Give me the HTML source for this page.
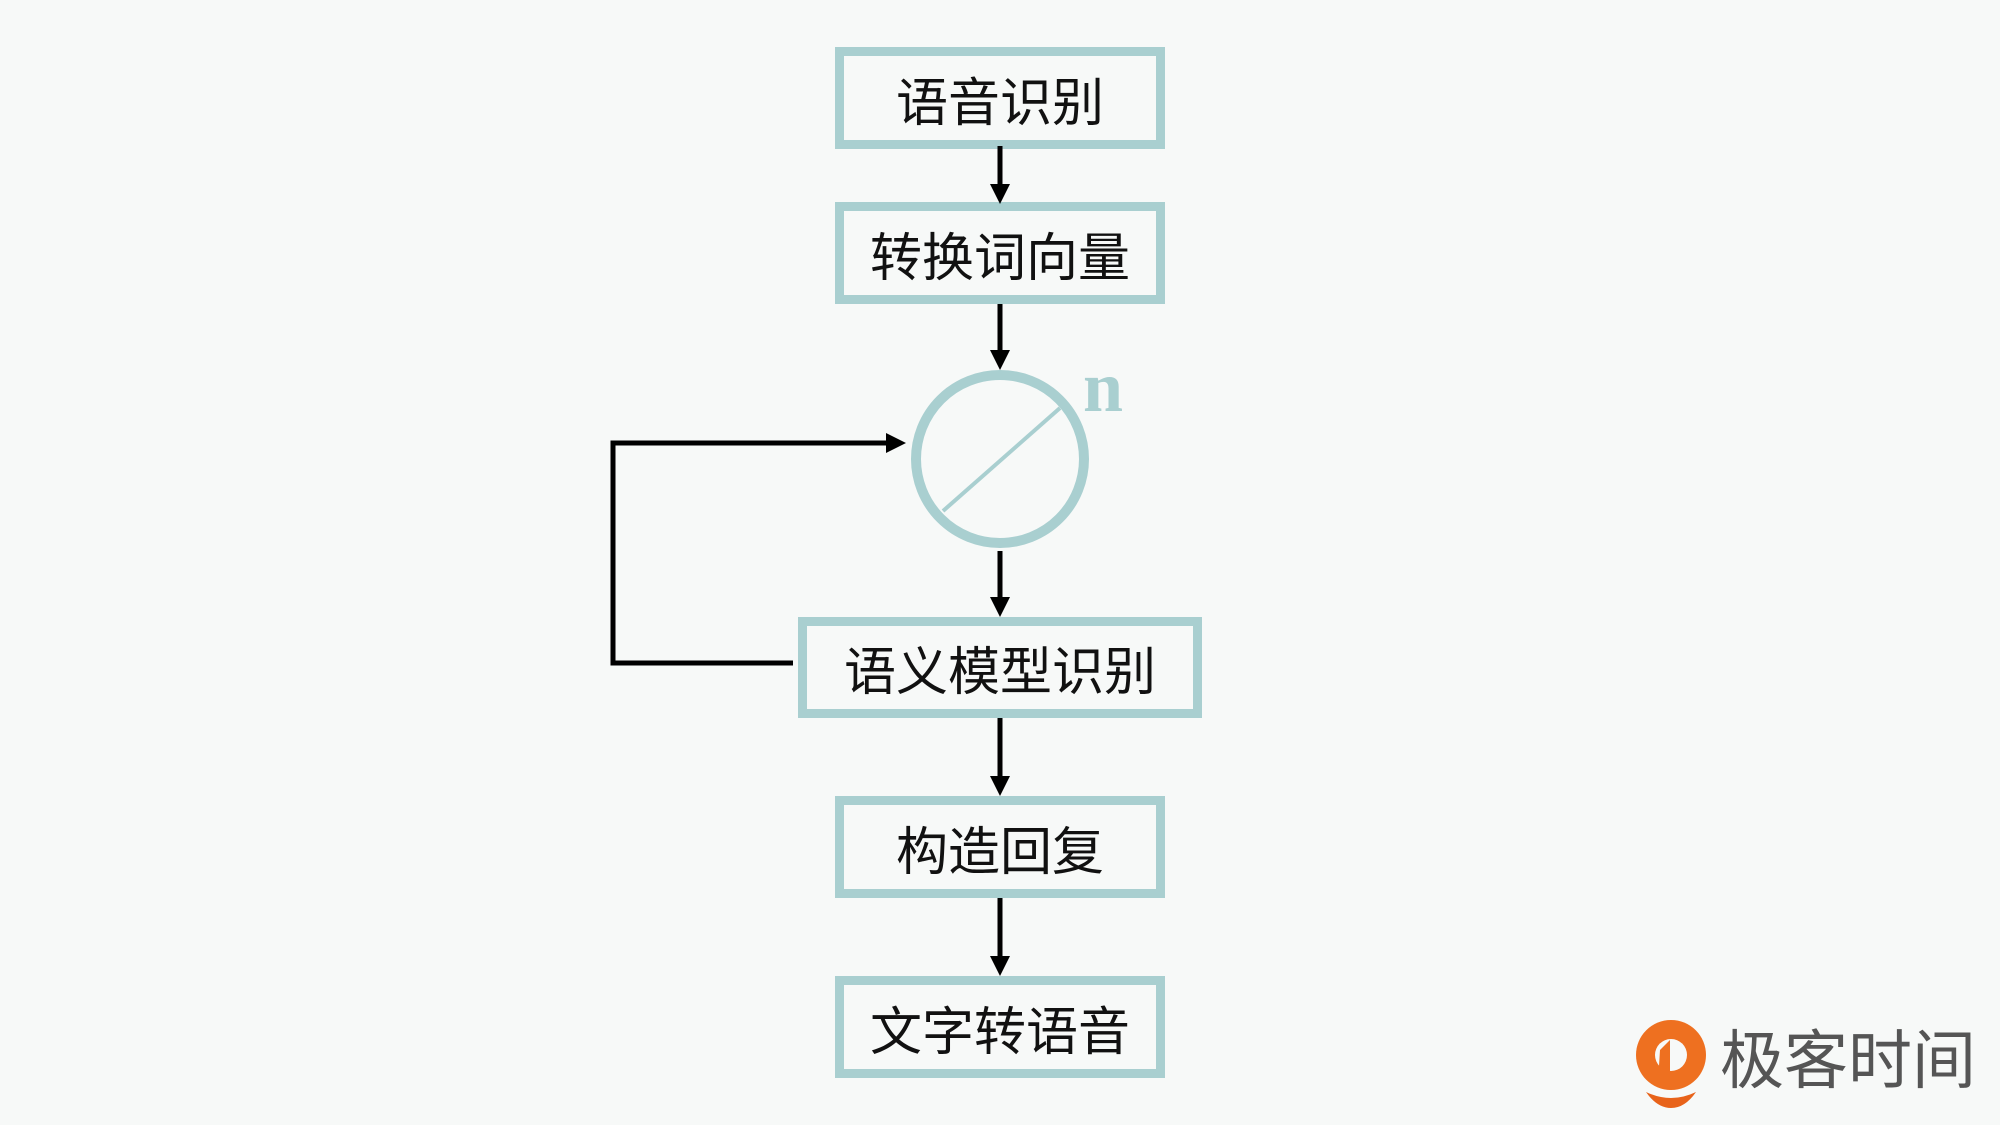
<!DOCTYPE html>
<html><head><meta charset="utf-8"><style>
html,body{margin:0;padding:0;}
body{width:2000px;height:1125px;background:#f7f9f8;position:relative;overflow:hidden;font-family:"Liberation Sans","Noto Sans CJK SC",sans-serif;}
.b{position:absolute;box-sizing:border-box;border:9px solid #a9cfd0;display:flex;align-items:center;justify-content:center;font-size:52px;color:#111;}
</style></head><body>
<div class="b" style="left:835px;top:47px;width:330px;height:102px;">语音识别</div>
<div class="b" style="left:835px;top:202px;width:330px;height:102px;">转换词向量</div>
<div class="b" style="left:798px;top:617px;width:404px;height:101px;">语义模型识别</div>
<div class="b" style="left:835px;top:796px;width:330px;height:102px;">构造回复</div>
<div class="b" style="left:835px;top:976px;width:330px;height:102px;">文字转语音</div>
<svg width="2000" height="1125" style="position:absolute;left:0;top:0">
<g fill="#000">
<rect x="997.5" y="146" width="5" height="40"/><path d="M990,184 L1010,184 L1000,204z"/>
<rect x="997.5" y="304" width="5" height="48"/><path d="M990,350 L1010,350 L1000,370z"/>
<rect x="997.5" y="551" width="5" height="48"/><path d="M990,597 L1010,597 L1000,617z"/>
<rect x="997.5" y="718" width="5" height="60"/><path d="M990,776 L1010,776 L1000,796z"/>
<rect x="997.5" y="898" width="5" height="60"/><path d="M990,956 L1010,956 L1000,976z"/>
<path d="M886,433 L906,443 L886,453z"/>
</g>
<polyline points="793,663 613,663 613,443 888,443" stroke="#000" stroke-width="5" fill="none"/>
<circle cx="1000" cy="459" r="84" stroke="#a9cfd0" stroke-width="10" fill="none"/>
<line x1="943" y1="511" x2="1060" y2="408" stroke="#a9cfd0" stroke-width="4"/>
<text x="1083" y="411" font-family="Liberation Serif" font-weight="bold" font-size="72" fill="#a9cfd0">n</text>
<circle cx="1671" cy="1055" r="35" fill="#ee7020"/>
<circle cx="1671" cy="1055" r="16" fill="#f7f9f8"/>
<path d="M1660,1050 L1670,1040 L1670,1090 L1658,1082z" fill="#ee7020"/>
<path d="M1646,1092 Q1671,1104 1696,1092 Q1685,1108 1671,1108 Q1657,1108 1646,1092z" fill="#e8631a"/>
</svg>
<div style="position:absolute;left:1720px;top:1024px;font-size:64px;line-height:74px;color:#555;font-family:'Liberation Sans','Noto Sans CJK SC',sans-serif;">极客时间</div>
</body></html>
